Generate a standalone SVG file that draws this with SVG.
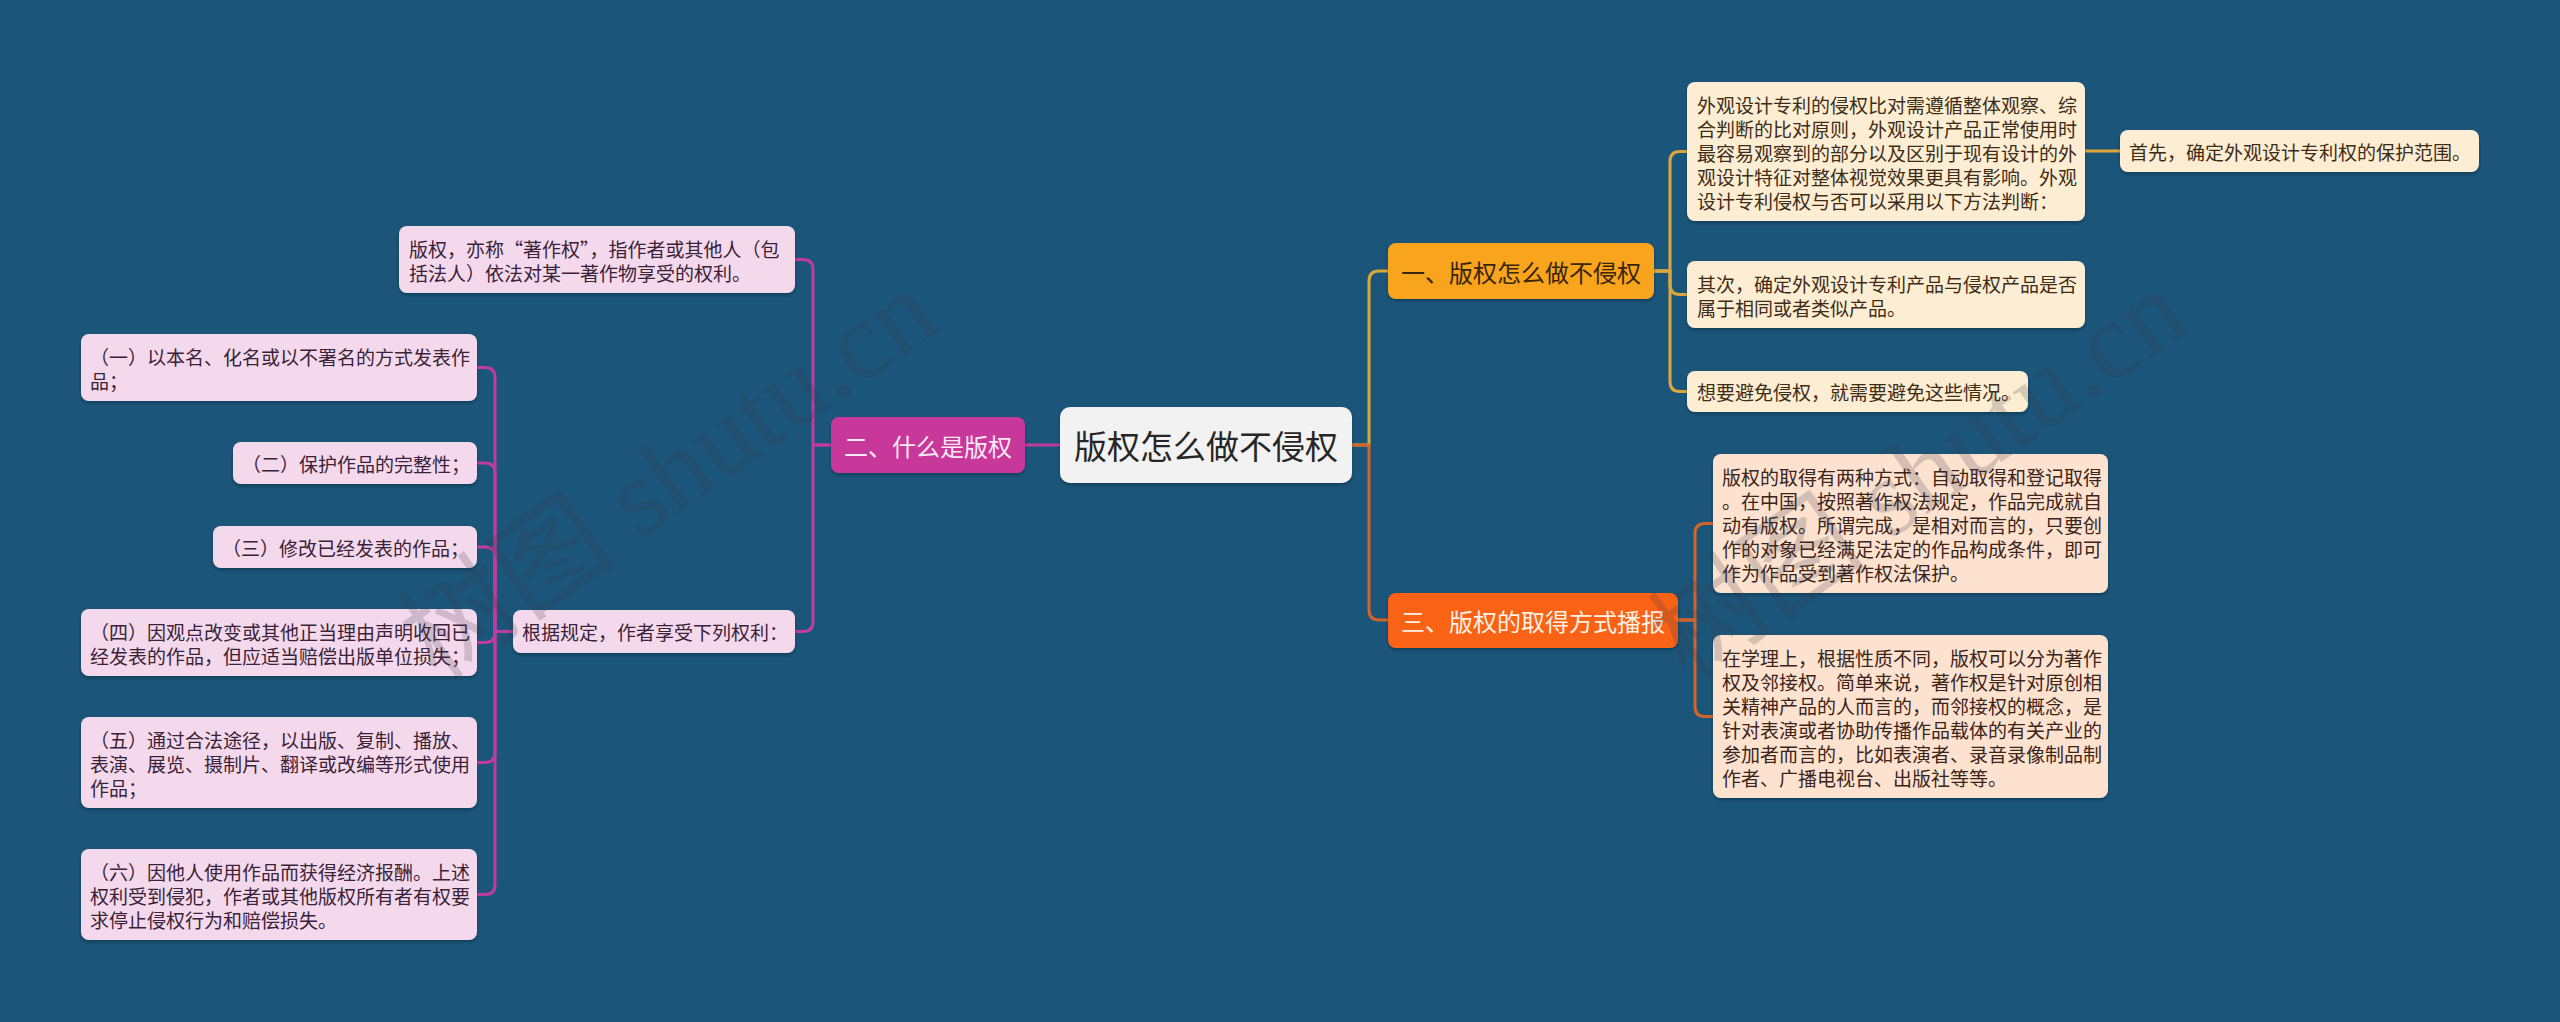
<svg xmlns="http://www.w3.org/2000/svg" width="2560" height="1022" viewBox="0 0 2560 1022">
<defs>
<style>
.t{font-family:"Noto Sans CJK SC","Noto Sans",sans-serif;dominant-baseline:central}
.s{font-size:19px}
.c{fill:none;stroke-width:3;stroke-linecap:round;stroke-linejoin:round}
.gold{stroke:#DDA73C}
.org{stroke:#D2652C}
.mag{stroke:#BF3C9E}
.bx{filter:url(#sh)}
.cream{fill:#FDEDD3}
.peach{fill:#FDE2D0}
.pink{fill:#F4D9EC}
.ct{fill:#3d2c16}
.pt{fill:#3b2418}
.kt{fill:#3a2238}
.wm{font-family:"Liberation Serif","Noto Sans CJK SC",serif;font-size:110px;fill:#3a3a48;opacity:0.2}
</style>
<filter id="sh" x="-5%" y="-10%" width="110%" height="130%">
<feDropShadow dx="0" dy="2" stdDeviation="1.5" flood-color="#0a2030" flood-opacity="0.45"/>
</filter>
</defs>
<rect width="2560" height="1022" fill="#1B5579"/>

<g id="connectors">
<path class="c gold" d="M1352,445 H1369 V281 Q1369,271 1379,271 H1388"/>
<path class="c org" d="M1352,445 H1369 V610 Q1369,620 1379,620 H1388"/>
<path class="c mag" d="M1060,445 H1025"/>
<path class="c gold" d="M1654,271 H1670 V161.5 Q1670,151.5 1680,151.5 H1687"/>
<path class="c gold" d="M1654,271 H1670 V284.5 Q1670,294.5 1680,294.5 H1687"/>
<path class="c gold" d="M1654,271 H1670 V381.5 Q1670,391.5 1680,391.5 H1687"/>
<path class="c gold" d="M2085,151 H2120"/>
<path class="c org" d="M1678,620 H1695 V533.5 Q1695,523.5 1705,523.5 H1713"/>
<path class="c org" d="M1678,620 H1695 V706.5 Q1695,716.5 1705,716.5 H1713"/>
<path class="c mag" d="M831,445 H813 V269.5 Q813,259.5 803,259.5 H795"/>
<path class="c mag" d="M831,445 H813 V621.5 Q813,631.5 803,631.5 H795"/>
<path class="c mag" d="M513,631.5 H495 V377.5 Q495,367.5 485,367.5 H477"/>
<path class="c mag" d="M513,631.5 H495 V473 Q495,463 485,463 H477"/>
<path class="c mag" d="M513,631.5 H495 V557 Q495,547 485,547 H477"/>
<path class="c mag" d="M513,631.5 H495 V632.5 Q495,642.5 485,642.5 H477"/>
<path class="c mag" d="M513,631.5 H495 V752.5 Q495,762.5 485,762.5 H477"/>
<path class="c mag" d="M513,631.5 H495 V884.5 Q495,894.5 485,894.5 H477"/>
</g>

<g id="root">
<rect class="bx" x="1060" y="407" width="292" height="76" rx="10" fill="#F2F2F2"/>
<text class="t" x="1206" y="445" font-size="33" text-anchor="middle" fill="#262626">版权怎么做不侵权</text>
</g>

<g id="n1">
<rect class="bx" x="1388" y="243" width="266" height="56" rx="8" fill="#F8A41E"/>
<text class="t" x="1521" y="271" font-size="24" text-anchor="middle" fill="#3a2508">一、版权怎么做不侵权</text>
</g>

<g id="n1a">
<rect class="bx cream" x="1687" y="82" width="398" height="139" rx="8"/>
<text class="t s ct" x="1697"><tspan x="1697" y="103.5">外观设计专利的侵权比对需遵循整体观察、综</tspan><tspan x="1697" y="127.5">合判断的比对原则，外观设计产品正常使用时</tspan><tspan x="1697" y="151.5">最容易观察到的部分以及区别于现有设计的外</tspan><tspan x="1697" y="175.5">观设计特征对整体视觉效果更具有影响。外观</tspan><tspan x="1697" y="199.5">设计专利侵权与否可以采用以下方法判断：</tspan></text>
</g>

<g id="n1a1">
<rect class="bx cream" x="2120" y="130" width="359" height="42" rx="8"/>
<text class="t s ct" x="2129" y="151">首先，确定外观设计专利权的保护范围。</text>
</g>

<g id="n1b">
<rect class="bx cream" x="1687" y="261" width="398" height="67" rx="8"/>
<text class="t s ct"><tspan x="1697" y="282.5">其次，确定外观设计专利产品与侵权产品是否</tspan><tspan x="1697" y="306.5">属于相同或者类似产品。</tspan></text>
</g>

<g id="n1c">
<rect class="bx cream" x="1687" y="371" width="341" height="41" rx="8"/>
<text class="t s ct" x="1697" y="391.5">想要避免侵权，就需要避免这些情况。</text>
</g>

<g id="n3">
<rect class="bx" x="1388" y="593" width="290" height="55" rx="8" fill="#FA6212"/>
<text class="t" x="1533" y="620.5" font-size="24" text-anchor="middle" fill="#FFF1E4">三、版权的取得方式播报</text>
</g>

<g id="n3a">
<rect class="bx peach" x="1713" y="454" width="395" height="139" rx="8"/>
<text class="t s pt"><tspan x="1722" y="475.5">版权的取得有两种方式：自动取得和登记取得</tspan><tspan x="1722" y="499.5">。在中国，按照著作权法规定，作品完成就自</tspan><tspan x="1722" y="523.5">动有版权。所谓完成，是相对而言的，只要创</tspan><tspan x="1722" y="547.5">作的对象已经满足法定的作品构成条件，即可</tspan><tspan x="1722" y="571.5">作为作品受到著作权法保护。</tspan></text>
</g>

<g id="n3b">
<rect class="bx peach" x="1713" y="635" width="395" height="163" rx="8"/>
<text class="t s pt"><tspan x="1722" y="656.5">在学理上，根据性质不同，版权可以分为著作</tspan><tspan x="1722" y="680.5">权及邻接权。简单来说，著作权是针对原创相</tspan><tspan x="1722" y="704.5">关精神产品的人而言的，而邻接权的概念，是</tspan><tspan x="1722" y="728.5">针对表演或者协助传播作品载体的有关产业的</tspan><tspan x="1722" y="752.5">参加者而言的，比如表演者、录音录像制品制</tspan><tspan x="1722" y="776.5">作者、广播电视台、出版社等等。</tspan></text>
</g>

<g id="n2">
<rect class="bx" x="831" y="417" width="194" height="56" rx="8" fill="#C7379A"/>
<text class="t" x="928" y="445" font-size="24" text-anchor="middle" fill="#FDE8F6">二、什么是版权</text>
</g>

<g id="n2a">
<rect class="bx pink" x="399" y="226" width="396" height="67" rx="8"/>
<text class="t s kt"><tspan x="409" y="247.5">版权，亦称“著作权”，指作者或其他人（包</tspan><tspan x="409" y="271.5">括法人）依法对某一著作物享受的权利。</tspan></text>
</g>

<g id="n2b">
<rect class="bx pink" x="513" y="610" width="282" height="43" rx="8"/>
<text class="t s kt" x="522" y="631.5">根据规定，作者享受下列权利：</text>
</g>

<g id="m1">
<rect class="bx pink" x="81" y="334" width="396" height="67" rx="8"/>
<text class="t s kt"><tspan x="90" y="355.5">（一）以本名、化名或以不署名的方式发表作</tspan><tspan x="90" y="379.5">品；</tspan></text>
</g>

<g id="m2">
<rect class="bx pink" x="233" y="442" width="244" height="42" rx="8"/>
<text class="t s kt" x="242" y="463">（二）保护作品的完整性；</text>
</g>

<g id="m3">
<rect class="bx pink" x="213" y="526" width="264" height="42" rx="8"/>
<text class="t s kt" x="222" y="547">（三）修改已经发表的作品；</text>
</g>

<g id="m4">
<rect class="bx pink" x="81" y="609" width="396" height="67" rx="8"/>
<text class="t s kt"><tspan x="90" y="630.5">（四）因观点改变或其他正当理由声明收回已</tspan><tspan x="90" y="654.5">经发表的作品，但应适当赔偿出版单位损失；</tspan></text>
</g>

<g id="m5">
<rect class="bx pink" x="81" y="717" width="396" height="91" rx="8"/>
<text class="t s kt"><tspan x="90" y="738.5">（五）通过合法途径，以出版、复制、播放、</tspan><tspan x="90" y="762.5">表演、展览、摄制片、翻译或改编等形式使用</tspan><tspan x="90" y="786.5">作品；</tspan></text>
</g>

<g id="m6">
<rect class="bx pink" x="81" y="849" width="396" height="91" rx="8"/>
<text class="t s kt"><tspan x="90" y="870.5">（六）因他人使用作品而获得经济报酬。上述</tspan><tspan x="90" y="894.5">权利受到侵犯，作者或其他版权所有者有权要</tspan><tspan x="90" y="918.5">求停止侵权行为和赔偿损失。</tspan></text>
</g>

<g id="watermark">
<text class="wm" x="690" y="505" text-anchor="middle" transform="rotate(-35 690 505)">树图 shutu.cn</text>
<text class="wm" x="1940" y="505" text-anchor="middle" transform="rotate(-35 1940 505)">树图 shutu.cn</text>
</g>
</svg>
